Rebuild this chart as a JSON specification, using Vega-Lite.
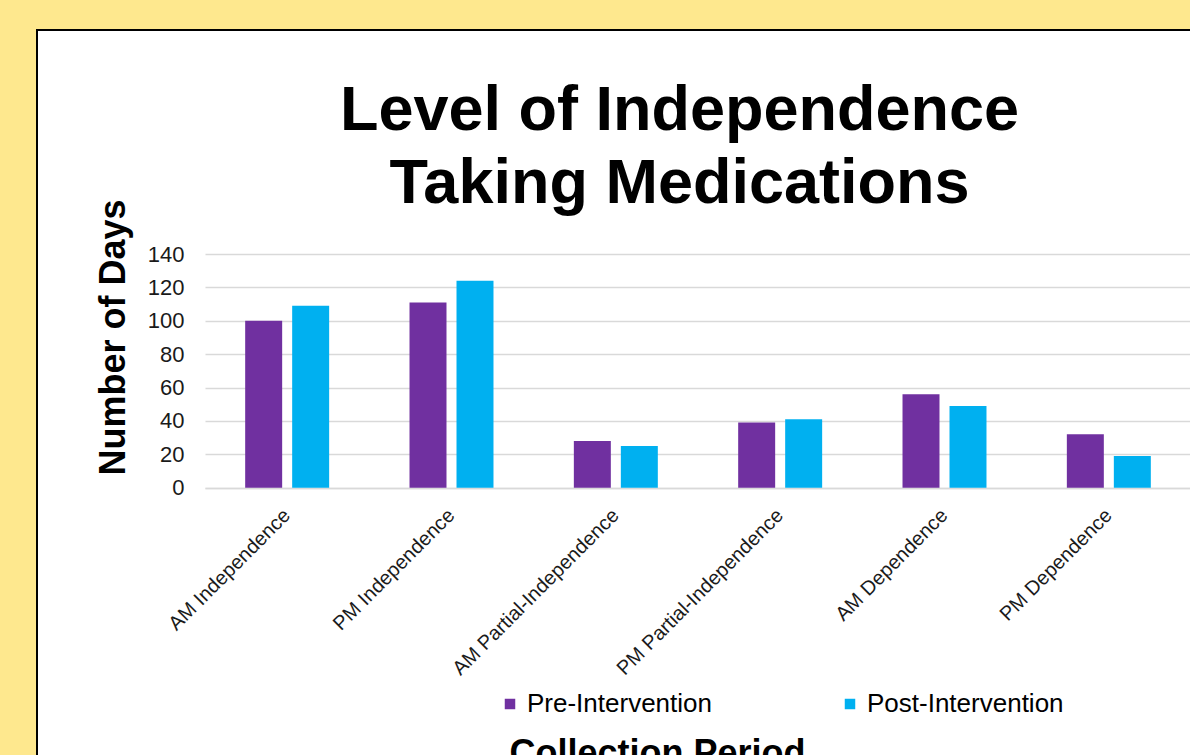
{
  "$schema": "https://vega.github.io/schema/vega-lite/v6.json",
  "width": 1155,
  "height": 727,
  "autosize": {"type": "none"},
  "padding": {"left": 37, "top": 30, "right": 0, "bottom": 0},
  "background": "#FEE88E",
  "view": {"fill": "white", "stroke": "black", "strokeWidth": 2},
  "config": {"font": "Liberation Sans"},
  "title": {
    "text": ["Level of Independence", "Taking Medications"],
    "font": "Liberation Sans",
    "fontSize": 63,
    "fontWeight": "bold",
    "color": "black",
    "anchor": "middle",
    "frame": "group",
    "baseline": "alphabetic",
    "lineHeight": 73,
    "offset": -236,
    "dx": 65
  },
  "data": {
    "values": [
      {"period": "AM Independence", "phase": "Pre-Intervention", "days": 100},
      {"period": "AM Independence", "phase": "Post-Intervention", "days": 109},
      {"period": "PM Independence", "phase": "Pre-Intervention", "days": 111},
      {"period": "PM Independence", "phase": "Post-Intervention", "days": 124},
      {"period": "AM Partial-Independence", "phase": "Pre-Intervention", "days": 28},
      {"period": "AM Partial-Independence", "phase": "Post-Intervention", "days": 25},
      {"period": "PM Partial-Independence", "phase": "Pre-Intervention", "days": 39},
      {"period": "PM Partial-Independence", "phase": "Post-Intervention", "days": 41},
      {"period": "AM Dependence", "phase": "Pre-Intervention", "days": 56},
      {"period": "AM Dependence", "phase": "Post-Intervention", "days": 49},
      {"period": "PM Dependence", "phase": "Pre-Intervention", "days": 32},
      {"period": "PM Dependence", "phase": "Post-Intervention", "days": 19}
    ]
  },
  "mark": {"type": "bar"},
  "encoding": {
    "x": {
      "field": "period",
      "type": "nominal",
      "sort": null,
      "scale": {"range": [168, 1154], "paddingInner": 0.489, "paddingOuter": 0.2445},
      "axis": {
        "orient": "bottom",
        "offset": -269,
        "title": "Collection Period",
        "titleFont": "Liberation Sans",
        "titleFontSize": 36,
        "titleFontWeight": "bold",
        "titleColor": "black",
        "titleX": 620,
        "titleY": 276,
        "titleAlign": "center",
        "titleBaseline": "alphabetic",
        "domain": true,
        "domainColor": "#D9D9D9",
        "domainWidth": 1.5,
        "ticks": false,
        "labelAngle": -45,
        "labelAlign": "right",
        "labelBaseline": "middle",
        "labelPadding": 24,
        "labelFontSize": 20,
        "labelColor": "#1a1a1a",
        "labelLimit": 400,
        "labelOverlap": false
      }
    },
    "xOffset": {
      "field": "phase",
      "type": "nominal",
      "sort": ["Pre-Intervention", "Post-Intervention"],
      "scale": {"paddingInner": 0.213, "paddingOuter": 0}
    },
    "y": {
      "field": "days",
      "type": "quantitative",
      "scale": {"domain": [0, 140], "range": [457.7, 224], "nice": false},
      "axis": {
        "orient": "left",
        "offset": -168,
        "values": [0, 20, 40, 60, 80, 100, 120, 140],
        "grid": false,
        "domain": false,
        "ticks": true,
        "tickSize": -990,
        "tickColor": "#D9D9D9",
        "tickWidth": 1.5,
        "labelPadding": 1011,
        "labelFontSize": 22,
        "labelColor": "#1a1a1a",
        "title": "Number of Days",
        "titleFont": "Liberation Sans",
        "titleFontSize": 36,
        "titleFontWeight": "bold",
        "titleColor": "black",
        "titleAngle": -90,
        "titleX": -81,
        "titleY": 307,
        "titleAlign": "center",
        "titleBaseline": "alphabetic"
      }
    },
    "color": {
      "field": "phase",
      "type": "nominal",
      "sort": ["Pre-Intervention", "Post-Intervention"],
      "scale": {"domain": ["Pre-Intervention", "Post-Intervention"], "range": ["#7030A0", "#00B0F0"]},
      "legend": {
        "title": null,
        "orient": "none",
        "direction": "horizontal",
        "legendX": 460,
        "legendY": 661,
        "padding": 0,
        "symbolType": "square",
        "symbolSize": 110,
        "symbolStrokeWidth": 0,
        "labelFont": "Liberation Sans",
        "labelFontSize": 26,
        "labelColor": "black",
        "labelOffset": 4,
        "columnPadding": 125,
        "labelLimit": 400
      }
    }
  }
}
